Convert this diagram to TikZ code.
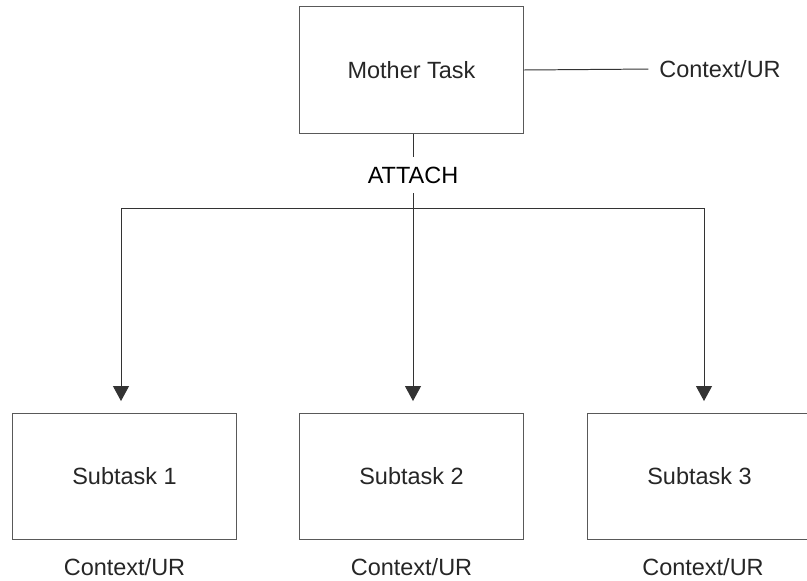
\documentclass[tikz,border=0pt]{standalone}
\usepackage{fontspec}
\setmainfont{Liberation Sans}
\usetikzlibrary{arrows.meta}
\usetikzlibrary{positioning}
\tikzset{taskbox/.style={draw=black!65, line width=0.7pt, minimum width=5.575cm, minimum height=3.15cm, text=black!85}}
\tikzset{ctxlabel/.style={text=black!85}}
\tikzset{link/.style={draw=black!80, line width=0.7pt}}
\tikzset{linkArrow/.style={link, -{Triangle[width=11.4pt, length=10.7pt]}, shorten >=8.5pt}}

\begin{document}
\begin{tikzpicture}[x=0.025cm, y=-0.025cm, font=\fontsize{16.7}{20}\selectfont]
\useasboundingbox (0,0) rectangle (807,580);

\node[taskbox] (mother) at (411.5, 70) {Mother Task};
\node[ctxlabel] (ctx0) at (720, 69) {Context/UR};

\node[taskbox] (sub1) at (124.5, 476.5) {Subtask 1};
\node[taskbox] (sub2) at (411.5, 476.5) {Subtask 2};
\node[taskbox] (sub3) at (699.5, 476.5) {Subtask 3};

\node[ctxlabel] (ctx1) at (124.5, 567) {Context/UR};
\node[ctxlabel] (ctx2) at (411.5, 567) {Context/UR};
\node[ctxlabel] (ctx3) at (703, 567) {Context/UR};

\node[inner sep=7pt] (attach) at (413, 175) {ATTACH};

\coordinate (h1) at (121, 208);
\coordinate (h3) at (704, 208);

\draw[link, shorten >=4.3pt] (mother.east) -- (ctx0.west);
\draw[link] (mother.south -| attach) -- (attach.north);
\draw[linkArrow] (attach.south) -- (attach |- sub2.north);
\draw[link] (h1) -- (h3);
\draw[linkArrow] (h1) -- (h1 |- sub1.north);
\draw[linkArrow] (h3) -- (h3 |- sub3.north);

\end{tikzpicture}
\end{document}
